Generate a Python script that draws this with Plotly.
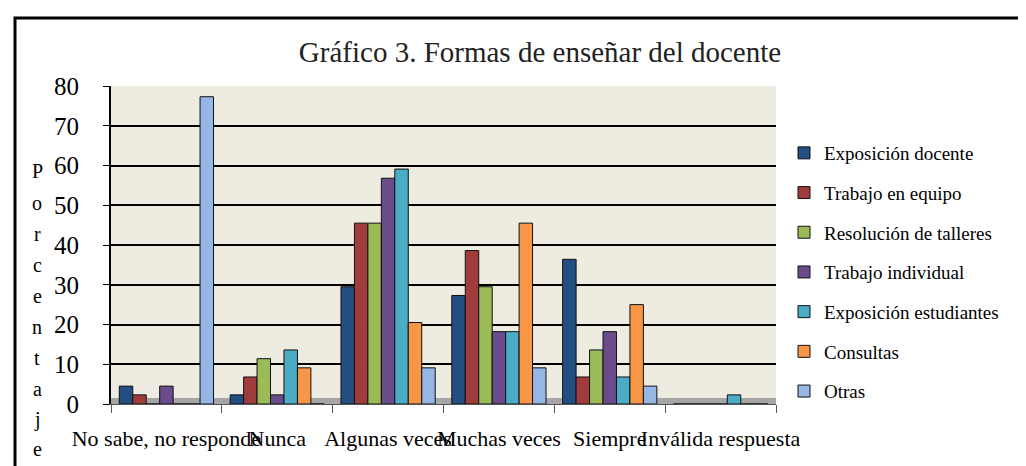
import plotly.graph_objects as go

categories = ["No sabe, no responde", "Nunca", "Algunas veces", "Muchas veces", "Siempre", "Inválida respuesta"]
exposicion_docente = [4.5, 2.3, 29.5, 27.3, 36.4, 0]
trabajo_equipo = [2.3, 6.8, 45.5, 38.6, 6.8, 0]
resolucion_talleres = [0, 11.4, 45.5, 29.5, 13.6, 0]
trabajo_individual = [4.5, 2.3, 56.8, 18.2, 18.2, 0]
exposicion_estudiantes = [0, 13.6, 59.1, 18.2, 6.8, 2.3]
consultas = [0, 9.1, 20.5, 45.5, 25.0, 0]
otras = [77.3, 0, 9.1, 9.1, 4.5, 0]

series_names = ["Exposición docente", "Trabajo en equipo", "Resolución de talleres",
                "Trabajo individual", "Exposición estudiantes", "Consultas", "Otras"]
series_values = [exposicion_docente, trabajo_equipo, resolucion_talleres,
                 trabajo_individual, exposicion_estudiantes, consultas, otras]
colors = ["#234E82", "#A03C3B", "#9BBB59", "#6A4C8C", "#4BACC6", "#F79646", "#95B7E6"]

SERIF = "Liberation Serif"

fig = go.Figure()
for name, vals, col in zip(series_names, series_values, colors):
    fig.add_trace(go.Bar(
        x=categories, y=vals, name=name, legendgroup=name,
        marker=dict(color=col, line=dict(color="#111111", width=1)),
    ))

# pixel geometry of the plot area
L, R, T, B = 103, 768, 78, 396
W_FIG, H_FIG = 1026, 466

def px(xp):
    return (xp - L) / (R - L)

def py(yp):
    return (B - yp) / (B - T)

shapes = [
    # outer frame
    dict(type="rect", xref="paper", yref="paper",
         x0=px(7), x1=px(1035), y0=py(10), y1=py(480),
         line=dict(color="black", width=3), fillcolor="rgba(0,0,0,0)", layer="above"),
    # floor strip
    dict(type="rect", xref="paper", yref="paper",
         x0=0, x1=1, y0=py(396), y1=py(390),
         line=dict(width=0), fillcolor="#A6A6A6", layer="below"),
]

annotations = []
letters = list("Porcentaje")
y_letters = [163, 195, 226, 257, 288, 319, 350, 381, 411, 441]
for ch, yl in zip(letters, y_letters):
    annotations.append(dict(
        text=ch, xref="paper", yref="paper", x=px(29), y=py(yl),
        showarrow=False, xanchor="center", yanchor="middle",
        font=dict(family=SERIF, size=20, color="black")))

fig.update_layout(
    width=W_FIG, height=H_FIG,
    margin=dict(l=L, r=W_FIG - R, t=T, b=H_FIG - B, autoexpand=False),
    paper_bgcolor="white",
    plot_bgcolor="#EEECE1",
    barmode="group", bargap=0.15, bargroupgap=0.0,
    title=dict(text="Gráfico 3. Formas de enseñar del docente",
               x=px(532), xref="paper", xanchor="center",
               y=1 - 44 / H_FIG, yanchor="middle",
               font=dict(family=SERIF, size=29, color="#222222")),
    font=dict(family=SERIF, color="black"),
    legend=dict(x=px(776), xref="paper", y=py(126), yref="paper",
                xanchor="left", yanchor="top",
                font=dict(family=SERIF, size=19, color="black"),
                tracegroupgap=12, itemwidth=30,
                bgcolor="rgba(0,0,0,0)"),
    shapes=shapes,
    annotations=annotations,
    showlegend=True,
)

fig.update_xaxes(
    type="category", tickangle=0, showgrid=False,
    showline=True, linecolor="#555555", linewidth=1,
    ticks="outside", tickson="boundaries", ticklen=8, tickcolor="#555555",
    ticklabelstandoff=15,
    tickfont=dict(family=SERIF, size=22, color="black"),
)
fig.update_yaxes(
    range=[0, 80], dtick=10, showgrid=True, gridcolor="black", gridwidth=2,
    zeroline=False, showline=True, linecolor="black", linewidth=2,
    ticks="outside", ticklen=6, tickcolor="black",
    ticklabelstandoff=19,
    tickfont=dict(family=SERIF, size=25, color="black"),
)

fig.write_html("out.html")
